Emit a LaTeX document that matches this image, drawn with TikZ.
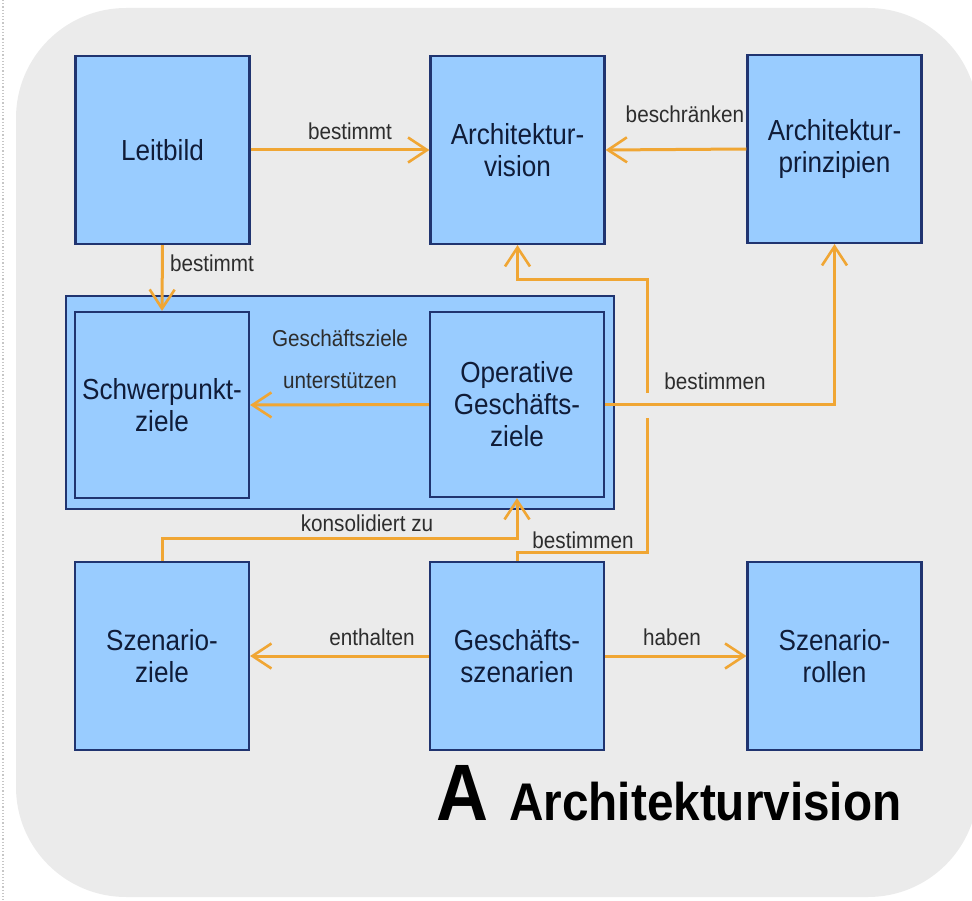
\documentclass[tikz,border=0pt]{standalone}
\usepackage{fontspec}
\setmainfont[FakeStretch=0.9]{Liberation Sans}
\usetikzlibrary{arrows.meta}
\definecolor{bgray}{RGB}{235,235,235}
\definecolor{boxblue}{RGB}{153,204,255}
\definecolor{boxline}{RGB}{32,52,112}
\definecolor{conorange}{RGB}{240,166,52}
\definecolor{boxtext}{RGB}{16,28,56}
\definecolor{labtext}{RGB}{45,45,45}
\tikzset{
  box/.style={draw=boxline, line width=2.2pt, fill=boxblue, align=center,
    text=boxtext, font=\fontsize{29}{32}\selectfont,
    minimum width=174pt, minimum height=188pt, inner sep=0pt},
  groupbox/.style={draw=boxline, line width=2.2pt, fill=boxblue, inner sep=0pt},
  conn/.style={draw=conorange, line width=3pt,
    -{Straight Barb[length=19pt,width=25pt,line width=2.6pt]}},
  lab/.style={text=labtext, font=\fontsize{23}{25}\selectfont, inner sep=0pt}
}
\begin{document}
\begin{tikzpicture}[x=1pt,y=-1pt]
\useasboundingbox (0,0) rectangle (972,901);
\fill[bgray, rounded corners=110pt] (16,8) rectangle (978,897);
\draw[gray!45, dotted, line width=1.2pt] (3,0) -- (3,901);
% group
\node[groupbox, minimum width=548pt, minimum height=213pt] (grp) at (340,402.5) {};
% boxes
\node[box] (leit) at (162.5,150) {Leitbild};
\node[box] (av) at (517.5,150) {Architektur-\\vision};
\node[box] (ap) at (834.5,149) {Architektur-\\prinzipien};
\node[box, minimum height=186pt] (sp) at (162,405) {Schwerpunkt-\\ziele};
\node[box, minimum height=185pt] (op) at (517,404.5) {Operative\\Geschäfts-\\ziele};
\node[box] (sz) at (162,656) {Szenario-\\ziele};
\node[box] (gs) at (517,656) {Geschäfts-\\szenarien};
\node[box] (sr) at (834.5,656) {Szenario-\\rollen};
% connectors
\draw[conn] (leit.east) -- (av.west);
\draw[conn] (ap.west) -- (av.east);
\draw[conn] (leit.south) -- (sp.north);
\draw[conn] (op.west) -- (sp.east);
\draw[conn] (op.east) -| (ap.south);
\coordinate (c1) at (647,552);
\coordinate (g1) at (647,418);
\coordinate (g2) at (647,393);
\coordinate (c2) at (647,280);
\draw[conn] (gs.north) |- (c1) -- (g1) (g2) -- (c2) -| (av.south);
\draw[conn] (sz.north) -- ++(0,-22) -| (op.south);
\draw[conn] (gs.west) -- (sz.east);
\draw[conn] (gs.east) -- (sr.west);
% labels
\node[lab] (l1) at (350,131) {bestimmt};
\node[lab] (l2) at (685,114) {beschränken};
\node[lab] (l3) at (212,263) {bestimmt};
\node[lab] (l4) at (340,338) {Geschäftsziele};
\node[lab] (l5) at (340,381) {unterstützen};
\node[lab] (l6) at (715,381) {bestimmen};
\node[lab] (l7) at (367,523) {konsolidiert zu};
\node[lab] (l8) at (583,540) {bestimmen};
\node[lab] (l9) at (372,637) {enthalten};
\node[lab] (l10) at (672,637) {haben};
% title
\node[anchor=base west, inner sep=0pt, font=\fontsize{80}{82}\selectfont\bfseries] (tA) at (436,820) {A};
\node[anchor=base west, inner sep=0pt, font=\fontsize{53}{56}\selectfont\bfseries] (tT) at (509,820) {Architekturvision};
\end{tikzpicture}
\end{document}
